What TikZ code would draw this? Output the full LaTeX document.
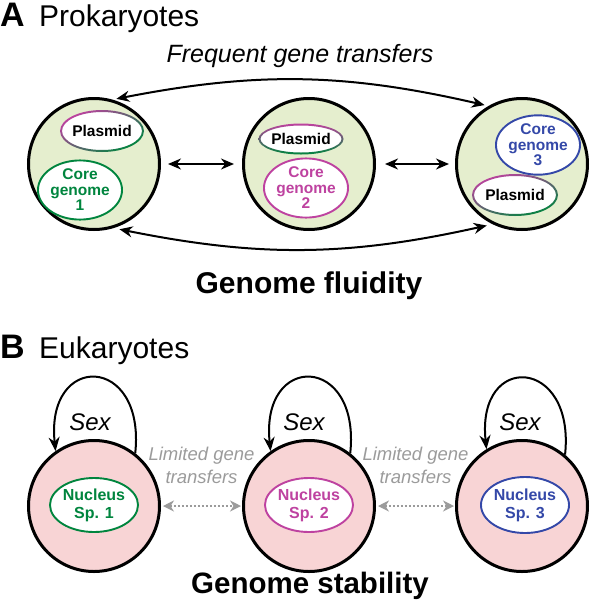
\documentclass[tikz,border=0pt]{standalone}
\usepackage{fontspec}
\setmainfont{Liberation Sans}
\usetikzlibrary{arrows.meta,shapes.geometric}

\definecolor{cellgreen}{RGB}{229,238,206}
\definecolor{cellpink}{RGB}{248,212,213}
\definecolor{genegreen}{RGB}{0,133,62}
\definecolor{genepink}{RGB}{190,66,160}
\definecolor{geneblue}{RGB}{52,72,168}
\definecolor{hgtgray}{RGB}{155,155,155}

\tikzset{
  cell/.style={circle, draw=black, line width=3pt, minimum size=131pt, inner sep=0pt},
  blob/.style={ellipse, line width=1.9pt, fill=white, inner sep=0pt, align=center,
    font=\fontsize{15.5}{15.5}\selectfont\bfseries},
  hgt/.style={{Stealth[length=13pt,width=11pt]}-{Stealth[length=13pt,width=11pt]},
    line width=2pt},
  weakhgt/.style={{Stealth[length=11pt,width=11pt]}-{Stealth[length=11pt,width=11pt]},
    draw=hgtgray, line width=2pt, dash pattern=on 2pt off 2pt},
  sexloop/.style={-{Stealth[length=14pt,width=11pt]}, line width=2pt},
  panel/.style={anchor=base west, inner sep=0pt}
}

\begin{document}
\begin{tikzpicture}[x=1pt, y=-1pt]
    \useasboundingbox (0,0) rectangle (591,606);

    % Panel titles
    \node[panel, font=\fontsize{34}{34}\selectfont\bfseries] (tA) at (0,26) {A};
    \node[panel, font=\fontsize{30}{30}\selectfont] (tAname) at (39,26) {Prokaryotes};
    \node[panel, font=\fontsize{34}{34}\selectfont\bfseries] (tB) at (0,358) {B};
    \node[panel, font=\fontsize{30}{30}\selectfont] (tBname) at (39,358) {Eukaryotes};

    % Draw the three prokaryote cells
    \node[cell, fill=cellgreen] (cA) at (94,164) {};
    \node[cell, fill=cellgreen] (cB) at (309,164) {};
    \node[cell, fill=cellgreen] (cC) at (522,164) {};

    % Plasmids, outline goes from pink to green
    \node[blob, minimum width=82pt, minimum height=40pt] (pA) at (102,131) {Plasmid};
    \node[blob, minimum width=83pt, minimum height=29pt] (pB) at (301,139) {Plasmid};
    \node[blob, minimum width=84pt, minimum height=40pt] (pC) at (515,195) {Plasmid};
    \shade[top color=genepink, bottom color=genegreen, shading angle=30, even odd rule]
        (pA) ellipse[x radius=42pt, y radius=21pt] (pA) ellipse[x radius=40pt, y radius=19pt];
    \shade[top color=genepink, bottom color=genegreen, even odd rule]
        (pB) ellipse[x radius=42.5pt, y radius=15.5pt] (pB) ellipse[x radius=40.5pt, y radius=13.5pt];
    \shade[top color=genepink, bottom color=genegreen, shading angle=20, even odd rule]
        (pC) ellipse[x radius=43pt, y radius=21pt] (pC) ellipse[x radius=41pt, y radius=19pt];

    % Core genomes
    \node[blob, draw=genegreen, text=genegreen, minimum width=78pt, minimum height=56pt] (gA) at (80,190) {Core\\genome\\1};
    \node[blob, draw=genepink, text=genepink, minimum width=70pt, minimum height=54pt] (gB) at (306,188) {Core\\genome\\2};
    \node[blob, draw=geneblue, text=geneblue, minimum width=76pt, minimum height=52pt] (gC) at (538,145) {Core\\genome\\3};

    % Gene transfers between the cells
    \node[font=\fontsize{25}{25}\selectfont\itshape, anchor=base] (freq) at (300,62) {Frequent gene transfers};
    \draw[hgt, shorten <=4pt, shorten >=4pt] (cA.74) to[bend left=12] (cC.120);
    \draw[hgt, shorten <=6pt, shorten >=6pt] (cA.-73) to[bend right=12] (cC.-116);
    \draw[hgt, shorten <=7pt, shorten >=8pt] (cA.east) -- (cB.west);
    \draw[hgt, shorten <=9pt, shorten >=6pt] (cB.east) -- (cC.west);

    \node[font=\fontsize{30}{30}\selectfont\bfseries, anchor=base] (fluid) at (309,293) {Genome fluidity};

    % Draw the three eukaryote cells
    \node[cell, fill=cellpink] (nA) at (94,506) {};
    \node[cell, fill=cellpink] (nB) at (309,506) {};
    \node[cell, fill=cellpink] (nC) at (522,506) {};

    % Nuclei
    \node[blob, draw=genegreen, text=genegreen, minimum width=88pt, minimum height=54pt,
        font=\fontsize{16}{18}\selectfont\bfseries] (kA) at (94,505) {Nucleus\\Sp. 1};
    \node[blob, draw=genepink, text=genepink, minimum width=88pt, minimum height=54pt,
        font=\fontsize{16}{18}\selectfont\bfseries] (kB) at (309,505) {Nucleus\\Sp. 2};
    \node[blob, draw=geneblue, text=geneblue, minimum width=88pt, minimum height=56pt,
        font=\fontsize{16}{18}\selectfont\bfseries] (kC) at (525,505) {Nucleus\\Sp. 3};

    % Sex loops
    \draw[sexloop] (nA.52) to[out=84, in=96, looseness=3.2] (nA.125);
    \draw[sexloop] (nB.52) to[out=84, in=96, looseness=3.2] (nB.125);
    \draw[sexloop] (nC.50) to[out=84, in=96, looseness=3.2] (nC.122);
    \node[font=\fontsize{24}{24}\selectfont\itshape] (sA) at (90,422) {Sex};
    \node[font=\fontsize{24}{24}\selectfont\itshape] (sB) at (304,422) {Sex};
    \node[font=\fontsize{24}{24}\selectfont\itshape] (sC) at (520,422) {Sex};

    % Limited transfers
    \draw[weakhgt, shorten <=2pt, shorten >=1pt] (nA.east) -- (nB.west);
    \draw[weakhgt, shorten <=2pt, shorten >=1pt] (nB.east) -- (nC.west);
    \node[text=hgtgray, align=center, inner sep=0pt,
        font=\fontsize{18.5}{23}\selectfont\itshape] (lAB) at (201.5,465) {Limited gene\\transfers};
    \node[text=hgtgray, align=center, inner sep=0pt,
        font=\fontsize{18.5}{23}\selectfont\itshape] (lBC) at (415.5,465) {Limited gene\\transfers};

    \node[font=\fontsize{29.5}{29.5}\selectfont\bfseries, anchor=base] (stable) at (310,593) {Genome stability};

\end{tikzpicture}
\end{document}
